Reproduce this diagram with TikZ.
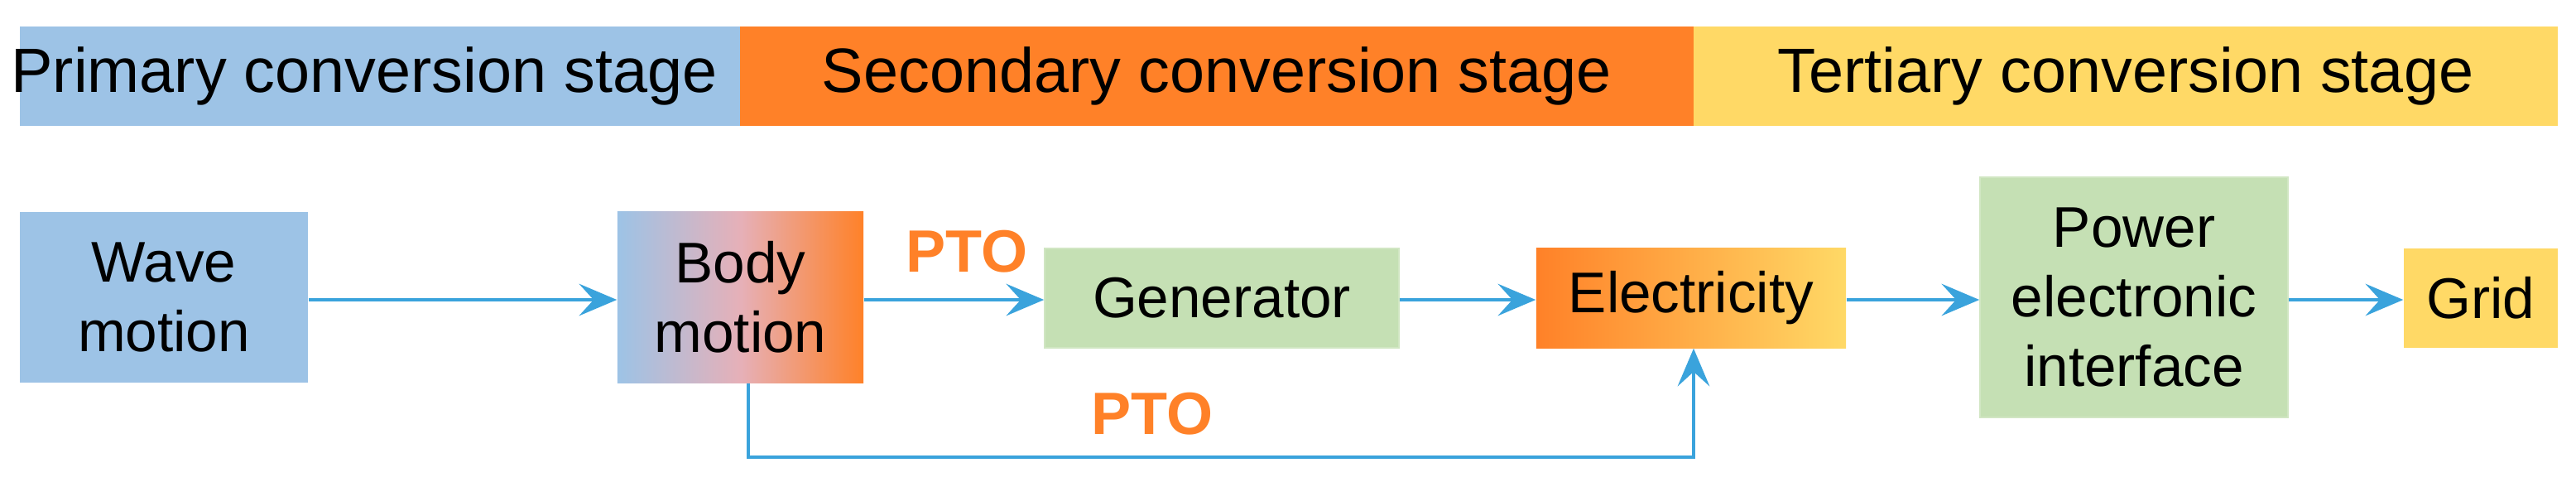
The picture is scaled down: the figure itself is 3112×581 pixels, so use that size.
\documentclass[tikz,border=0pt]{standalone}
\usepackage{fontspec}
\setmainfont{Liberation Sans}
\usetikzlibrary{arrows.meta}
\definecolor{cblue}{HTML}{9DC3E6}
\definecolor{corange}{HTML}{FF8128}
\definecolor{cyellow}{HTML}{FFD966}
\definecolor{cgreen}{HTML}{C5E0B4}
\definecolor{cline}{HTML}{3AA3DC}
\definecolor{cpink}{HTML}{E6B0B8}
\begin{document}
\begin{tikzpicture}[x=0.01cm,y=-0.01cm,
  box/.style={inner sep=0pt,align=center,font=\fontsize{19.7}{24}\selectfont,text=black},
  arr/.style={draw=cline,line width=0.9pt,-{Stealth[length=13pt,width=11pt,inset=5pt]}},
  pto/.style={text=corange,font=\fontsize{20.5}{24}\selectfont\bfseries},
  band/.style={font=\fontsize{21.5}{26}\selectfont}]
\useasboundingbox (0,0) rectangle (3112,581);
\fill[cblue] (24,32) rectangle (894,152);
\fill[corange] (894,32) rectangle (2046,152);
\fill[cyellow] (2046,32) rectangle (3090,152);
\node[band] (b1) at (440,92) {Primary conversion stage};
\node[band] (b2) at (1470,92) {Secondary conversion stage};
\node[band] (b3) at (2568,92) {Tertiary conversion stage};
\node[box,fill=cblue,minimum width=3.48cm,minimum height=2.06cm] (wave) at (198,359) {Wave\\motion};
\node[box,left color=cblue,right color=corange,middle color=cpink,minimum width=2.97cm,minimum height=2.06cm] (body) at (894.5,359) {Body\\motion};
\node[box,fill=cgreen,draw=cgreen!80!white,minimum width=4.28cm,minimum height=1.2cm] (gen) at (1476,360) {Generator};
\node[box,left color=corange,right color=cyellow,minimum width=3.74cm,minimum height=1.2cm] (elec) at (2043,360) {Electricity};
\node[box,fill=cgreen,draw=cgreen!80!white,minimum width=3.72cm,minimum height=2.9cm] (pei) at (2578,359) {Power\\electronic\\interface};
\node[box,fill=cyellow,minimum width=1.86cm,minimum height=1.2cm] (grid) at (2997,360) {Grid};
\node[pto] (p1) at (1168,304) {PTO};
\node[pto] (p2) at (1392,500) {PTO};
\coordinate (c1) at (904,552);
\coordinate (c2) at (2046,552);
\draw[arr] (wave.east |- 0,362) -- (body.west |- 0,362);
\draw[arr] (body.east |- 0,362) -- (gen.west |- 0,362);
\draw[arr] (gen.east |- 0,362) -- (elec.west |- 0,362);
\draw[arr] (elec.east |- 0,362) -- (pei.west |- 0,362);
\draw[arr] (pei.east |- 0,362) -- (grid.west |- 0,362);
\draw[arr] (body.south -| c1) -- (c1) -- (c2) -- (elec.south -| c2);
\end{tikzpicture}
\end{document}
